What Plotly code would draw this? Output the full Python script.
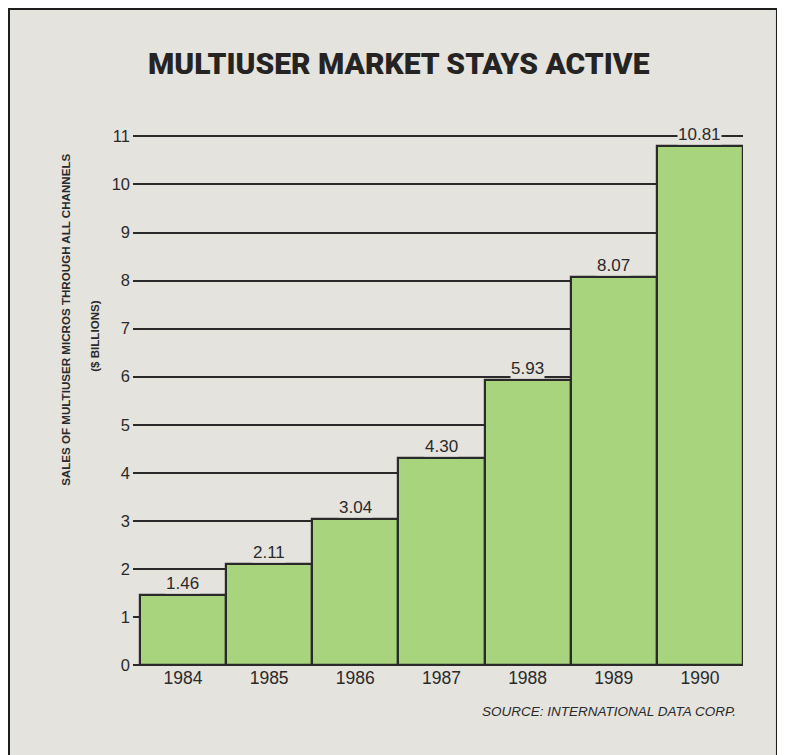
import plotly.graph_objects as go

TITLE = "MULTIUSER MARKET STAYS ACTIVE"
Y_TITLE_1 = "SALES OF MULTIUSER MICROS THROUGH ALL CHANNELS"
Y_TITLE_2 = "($ BILLIONS)"
SOURCE = "SOURCE: INTERNATIONAL DATA CORP."

years = ["1984", "1985", "1986", "1987", "1988", "1989", "1990"]
sales = [1.46, 2.11, 3.04, 4.30, 5.93, 8.07, 10.81]
sales_labels = ["1.46", "2.11", "3.04", "4.30", "5.93", "8.07", "10.81"]
y_ticks = list(range(0, 12))

PAPER = "#e4e3de"
GREEN = "#a8d47e"
INK = "#2a2a2a"
SANS = "Liberation Sans, Arial"

fig = go.Figure()
fig.add_trace(
    go.Bar(
        x=list(range(len(years))),
        y=sales,
        width=1,
        marker=dict(color=GREEN, line=dict(color=INK, width=2.2)),
        hoverinfo="skip",
    )
)

# value labels sit on a paper-coloured box, so they break the gridline
for i, (v, lab) in enumerate(zip(sales, sales_labels)):
    fig.add_annotation(
        x=i, y=v, text=lab, showarrow=False, yanchor="bottom",
        font=dict(family=SANS, size=17, color=INK),
        bgcolor=PAPER, borderpad=0, yshift=1,
    )

fig.add_annotation(
    xref="paper", yref="paper", x=0.436, y=1.134, xanchor="center", yanchor="middle",
    text=TITLE, showarrow=False,
    font=dict(family="Roboto", size=30, color="#262323", weight=900),
)
fig.add_annotation(
    xref="paper", yref="paper", x=-0.11, y=0.651, xanchor="center", yanchor="middle",
    text=Y_TITLE_1, showarrow=False, textangle=-90,
    font=dict(family=SANS, size=11.6, color=INK, weight="bold"),
)
fig.add_annotation(
    xref="paper", yref="paper", x=-0.0623, y=0.621, xanchor="center", yanchor="middle",
    text=Y_TITLE_2, showarrow=False, textangle=-90,
    font=dict(family=SANS, size=11.6, color=INK, weight="bold"),
)
fig.add_annotation(
    xref="paper", yref="paper", x=0.992, y=-0.087, xanchor="right", yanchor="middle",
    text=SOURCE, showarrow=False,
    font=dict(family=SANS, size=13.5, color=INK, style="italic"),
)

# frame round the whole chart
fig.add_shape(
    type="rect", xref="paper", yref="paper", x0=-0.2033, x1=1.0557, y0=-0.2, y1=1.2377,
    line=dict(color="#1e1e1e", width=2), layer="below",
)

fig.update_layout(
    width=777, height=747,
    margin=dict(l=125, r=42, t=127, b=90),
    paper_bgcolor=PAPER, plot_bgcolor=PAPER,
    showlegend=False,
    bargap=0,
    xaxis=dict(
        range=[-0.58, 6.5], tickvals=list(range(len(years))), ticktext=years,
        showgrid=False, zeroline=False, showline=False, ticks="",
        tickfont=dict(family=SANS, size=17.5, color=INK),
    ),
    yaxis=dict(
        range=[0, 11.03], tickvals=y_ticks, showgrid=True, gridcolor=INK, gridwidth=2,
        zeroline=True, zerolinecolor=INK, zerolinewidth=2.2, showline=False, ticks="",
        ticklabelstandoff=2,
        tickfont=dict(family=SANS, size=16.5, color=INK),
    ),
)

fig.write_html("out.html")
